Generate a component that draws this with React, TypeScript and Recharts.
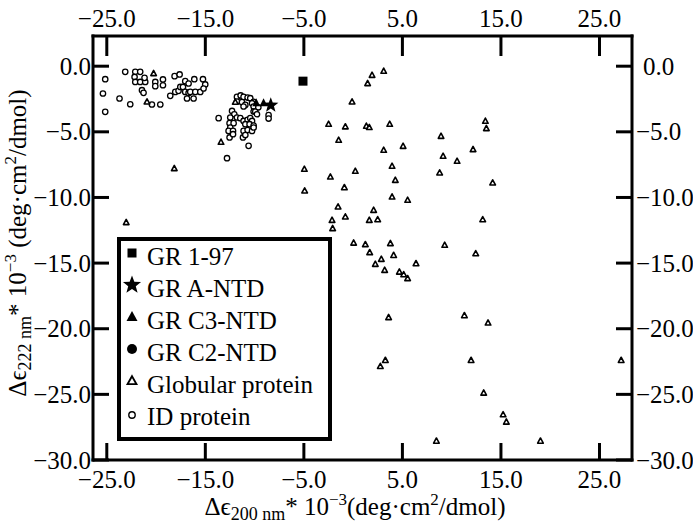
import React from 'react';
import { ScatterChart, Scatter, XAxis, YAxis, Legend } from 'recharts';

// ---------- data ----------
const xTicks = [-25, -15, -5, 5, 15, 25];
const yTicks = [0, -5, -10, -15, -20, -25, -30];

const idProteinX = [
  -25.16, -25.39, -25.16, -23.71, -23.13, -22.62, -22.11, -21.61, -22.18, -22.11, -21.61, -21.1, -21.17, -21.43,
  -21.27, -20.08, -20.08, -19.3, -19.3, -20.42, -19.57, -18.56, -18.12, -17.61, -18.05, -17.72, -17.54, -17.04,
  -16.7, -17.27, -17.04, -16.7, -16.86, -16.19, -16.53, -16.02, -15.51, -16.12, -15.24, -15.01, -15.18,
  -13.65, -12.8, -11.79, -11.42, -11.12, -10.71, -10.44, -10.1, -11.79, -11.28, -10.94, -11.12, -10.26, -10.1,
  -10.1, -12.29, -12.06, -11.79, -12.47, -12.54, -12.13, -12.47, -12.64, -12.19, -12.54, -12.19, -11.45, -11.12,
  -10.71, -10.44, -10.26, -10.94, -10.51, -10.1, -11.12, -10.71, -10.26, -10.1, -11.18, -10.94, -10.61, -9.93,
  -9.76, -8.58, -8.58, -9.62,
];
const idProteinY = [
  -0.99, -2.08, -3.48, -2.46, -0.43, -2.9, -0.43, -0.43, -0.82, -1.2, -1.2, -1.2, -0.89, -1.83,
  -2.03, -1.2, -1.52, -1.01, -1.45, -2.92, -2.92, -2.26, -0.76, -0.63, -1.96, -1.88, -1.58, -1.14,
  -1.32, -1.58, -1.96, -2.04, -2.46, -2.46, -1.96, -1.96, -1.96, -0.99, -0.99, -1.39, -1.7,
  -3.96, -7.01, -2.34, -2.23, -2.34, -2.39, -2.44, -2.72, -2.69, -2.74, -2.95, -3.07, -2.82, -3.07,
  -3.45, -3.41, -3.66, -3.91, -3.91, -4.34, -4.34, -4.67, -4.93, -4.93, -5.43, -5.18, -3.96, -4.17,
  -4.09, -3.96, -4.17, -4.42, -4.42, -4.52, -4.93, -4.86, -4.93, -4.67, -5.43, -5.24, -6.07, -3.45,
  -3.66, -3.73, -3.99, -3.13,
];

const globularX = [
  -20.25, -20.92, -18.15, -23.03, -11.96, -13.41,
  3.1, 1.92, 1.47, -0.11, -2.49, -0.79, 1.34, 1.64, 3.71, -1.47, 3.1, 5.07, 8.92, 9.13, 8.78, 3.95, 0.22,
  -4.95, -2.31, -4.92, -0.89, 4.28, 3.95, 5.53, -1.53, -0.79, 2.08, -2.14, -2.08, 1.64, 2.49, 0.05, 1.24,
  3.78, 9.29, 13.42, 13.52, 12.17, 10.55, 14.16, 13.15, 1.68, 2.86, 4.11, 2.25, 3.2, 6.38, 4.69, 5.13,
  5.53, 12.44, 3.6, 11.29, 13.69, 2.76, 3.27, 11.97, 13.25, 8.45, 15.22, 15.55, 19.01, 27.2,
];
const globularY = [
  -0.56, -2.72, -7.8, -11.91, -2.74, -5.79,
  -0.38, -0.69, -1.32, -2.72, -4.42, -4.62, -4.57, -4.67, -4.42, -5.64, -6.4, -6.1, -5.34, -6.86, -8.13, -7.62, -8.0,
  -7.85, -8.44, -9.5, -9.25, -8.69, -9.96, -10.21, -10.72, -11.48, -10.98, -11.74, -12.37, -11.74, -11.69, -13.47, -13.59,
  -13.51, -13.64, -4.19, -4.75, -6.35, -7.24, -8.89, -11.69, -14.2, -14.71, -14.41, -15.09, -15.55, -15.04, -15.68, -15.88,
  -16.18, -14.28, -19.15, -19.0, -19.56, -22.87, -22.41, -22.41, -24.9, -28.56, -26.55, -27.11, -28.56, -22.41,
];

const gr197X = [-5.09];
const gr197Y = [-1.14];
const grANtdX = [-8.36];
const grANtdY = [-2.97];
const grC3NtdX = [-9.83, -9.09];
const grC3NtdY = [-2.8, -2.8];
const grC2NtdX: number[] = [];
const grC2NtdY: number[] = [];

const legendLabels = ['GR 1-97', 'GR A-NTD', 'GR C3-NTD', 'GR C2-NTD', 'Globular protein', 'ID protein'];

const zip = (xs: number[], ys: number[]) => xs.map((x, i) => ({ x, y: ys[i] }));
const idData = zip(idProteinX, idProteinY);
const globData = zip(globularX, globularY);
const gr197Data = zip(gr197X, gr197Y);
const grAData = zip(grANtdX, grANtdY);
const grC3Data = zip(grC3NtdX, grC3NtdY);
const grC2Data = zip(grC2NtdX, grC2NtdY);

// ---------- styling ----------
const FONT = '"Liberation Serif", "Times New Roman", Times, serif';
const FS = 25;
const fmt = (v: number) => (v < 0 ? '\u2212' : '') + Math.abs(v).toFixed(1);

const starPath = (cx: number, cy: number, R: number) => {
  const r = R * 0.42;
  let d = '';
  for (let i = 0; i < 10; i++) {
    const rad = i % 2 === 0 ? R : r;
    const a = -Math.PI / 2 + (i * Math.PI) / 5;
    d += (i === 0 ? 'M' : 'L') + (cx + rad * Math.cos(a)).toFixed(2) + ',' + (cy + rad * Math.sin(a)).toFixed(2);
  }
  return d + 'Z';
};
const triPath = (cx: number, cy: number, w: number, h: number) =>
  `M${cx},${cy - h * 0.6}L${cx + w / 2},${cy + h * 0.4}L${cx - w / 2},${cy + h * 0.4}Z`;

const IdShape = (p: any) => <circle cx={p.cx} cy={p.cy} r={2.7} fill="#fff" stroke="#000" strokeWidth={1.3} />;
const GlobShape = (p: any) => <path d={triPath(p.cx, p.cy, 5.6, 5.2)} fill="#fff" stroke="#000" strokeWidth={1.6} strokeLinejoin="round" />;
const SquareShape = (p: any) => <rect x={p.cx - 4.5} y={p.cy - 4.5} width={9} height={9} fill="#000" />;
const StarShape = (p: any) => <path d={starPath(p.cx, p.cy, 8)} fill="#000" />;
const FTriShape = (p: any) => <path d={triPath(p.cx, p.cy, 8, 8)} fill="#000" />;
const FCircShape = (p: any) => <circle cx={p.cx} cy={p.cy} r={4.5} fill="#000" />;

// ticks (inward tick line + outward label)
const BottomTick = (p: any) => (
  <g>
    <line x1={p.x} y1={p.y} x2={p.x} y2={p.y - 17} stroke="#000" strokeWidth={3} />
    <text x={p.x} y={p.y + 28} textAnchor="middle" fontFamily={FONT} fontSize={FS} fill="#000">
      {fmt(p.payload.value)}
    </text>
  </g>
);
const TopTick = (p: any) => (
  <g>
    <line x1={p.x} y1={p.y} x2={p.x} y2={p.y + 20} stroke="#000" strokeWidth={3} />
    <text x={p.x} y={p.y - 9} textAnchor="middle" fontFamily={FONT} fontSize={FS} fill="#000">
      {fmt(p.payload.value)}
    </text>
  </g>
);
const LeftTick = (p: any) => (
  <g>
    <line x1={p.x} y1={p.y} x2={p.x + 16} y2={p.y} stroke="#000" strokeWidth={3} />
    <text x={p.x - 2} y={p.y + 8.5} textAnchor="end" fontFamily={FONT} fontSize={FS} fill="#000">
      {fmt(p.payload.value)}
    </text>
  </g>
);
const RightTick = (p: any) => (
  <g>
    <line x1={p.x} y1={p.y} x2={p.x - 16} y2={p.y} stroke="#000" strokeWidth={3} />
    <text x={p.x + 4 + (p.payload.value >= 0 ? 7 : 0)} y={p.y + 8.5} textAnchor="start" fontFamily={FONT} fontSize={FS} fill="#000">
      {fmt(p.payload.value)}
    </text>
  </g>
);

const XTitle = () => (
  <text x={355} y={515} textAnchor="middle" fontFamily={FONT} fontSize={FS} fill="#000">
    {'\u0394\u03f5'}
    <tspan fontSize={18} dy={5}>{'200 nm'}</tspan>
    <tspan dy={-5}>{'* 10'}</tspan>
    <tspan fontSize={17} dy={-10}>{'\u22123'}</tspan>
    <tspan dy={10}>{'(deg\u00b7cm'}</tspan>
    <tspan fontSize={17} dy={-10}>{'2'}</tspan>
    <tspan dy={10}>{'/dmol)'}</tspan>
  </text>
);
const YTitle = () => (
  <text transform="translate(26,243) rotate(-90)" textAnchor="middle" fontFamily={FONT} fontSize={FS} fill="#000">
    {'\u0394\u03f5'}
    <tspan fontSize={18} dy={5}>{'222 nm'}</tspan>
    <tspan dy={-5}>{'* 10'}</tspan>
    <tspan fontSize={17} dy={-10}>{'\u22123'}</tspan>
    <tspan dy={10}>{' (deg\u00b7cm'}</tspan>
    <tspan fontSize={17} dy={-10}>{'2'}</tspan>
    <tspan dy={10}>{'/dmol)'}</tspan>
  </text>
);

const legendMarkers = [
  (cx: number, cy: number) => <rect x={cx - 4.5} y={cy - 4.5} width={9} height={9} fill="#000" />,
  (cx: number, cy: number) => <path d={starPath(cx, cy, 9.5)} fill="#000" />,
  (cx: number, cy: number) => <path d={triPath(cx, cy, 11, 10)} fill="#000" />,
  (cx: number, cy: number) => <circle cx={cx} cy={cy} r={5} fill="#000" />,
  (cx: number, cy: number) => <path d={triPath(cx, cy, 9, 8)} fill="#fff" stroke="#000" strokeWidth={1.8} />,
  (cx: number, cy: number) => <circle cx={cx} cy={cy} r={3.2} fill="#fff" stroke="#000" strokeWidth={1.4} />,
];

const LegendBox = () => (
  <svg width={215} height={204} style={{ display: 'block' }}>
    <rect x={2} y={2} width={211} height={200} fill="#fff" stroke="#000" strokeWidth={4} />
    {legendLabels.map((lab, i) => {
      const base = 28 + i * 32;
      return (
        <g key={lab}>
          {legendMarkers[i](15, base - 12 + (i === 5 ? 2 : 0))}
          <text x={30} y={base} fontFamily={FONT} fontSize={FS} fill="#000">
            {lab}
          </text>
        </g>
      );
    })}
  </svg>
);

export default function App() {
  const axisLine = { stroke: '#000', strokeWidth: 3, strokeLinecap: 'square' as const };
  return (
    <div style={{ position: 'absolute', left: 0, top: 0, width: 693, height: 525, background: '#fff' }}>
      <ScatterChart width={693} height={525} margin={{ top: 0, right: 0, bottom: 0, left: 0 }}>
        <XAxis
          xAxisId="bottom"
          type="number"
          dataKey="x"
          domain={[-26.4, 28.3]}
          allowDataOverflow
          ticks={xTicks}
          height={65}
          tickSize={0}
          tickMargin={0}
          tickLine={false}
          axisLine={axisLine}
          tick={BottomTick}
          interval={0}
          label={() => <XTitle />}
        />
        <XAxis
          xAxisId="top"
          orientation="top"
          type="number"
          dataKey="x"
          domain={[-26.4, 28.3]}
          allowDataOverflow
          ticks={xTicks}
          height={36}
          tickSize={0}
          tickMargin={0}
          tickLine={false}
          axisLine={axisLine}
          tick={TopTick}
          interval={0}
        />
        <YAxis
          yAxisId="left"
          type="number"
          dataKey="y"
          domain={[-30, 2.3]}
          allowDataOverflow
          ticks={yTicks}
          width={93}
          tickSize={0}
          tickMargin={0}
          tickLine={false}
          axisLine={axisLine}
          tick={LeftTick}
          interval={0}
          label={() => <YTitle />}
        />
        <YAxis
          yAxisId="right"
          orientation="right"
          type="number"
          dataKey="y"
          domain={[-30, 2.3]}
          allowDataOverflow
          ticks={yTicks}
          width={61}
          tickSize={0}
          tickMargin={0}
          tickLine={false}
          axisLine={axisLine}
          tick={RightTick}
          interval={0}
        />
        <Legend
          layout="vertical"
          align="center"
          verticalAlign="middle"
          wrapperStyle={{ left: 117, top: 237, width: 215, height: 204 }}
          content={() => <LegendBox />}
        />
        <Scatter name="ID protein" data={idData} xAxisId="bottom" yAxisId="left" shape={IdShape} isAnimationActive={false} />
        <Scatter name="Globular protein" data={globData} xAxisId="bottom" yAxisId="left" shape={GlobShape} isAnimationActive={false} />
        <Scatter name="GR 1-97" data={gr197Data} xAxisId="bottom" yAxisId="left" shape={SquareShape} isAnimationActive={false} />
        <Scatter name="GR C2-NTD" data={grC2Data} xAxisId="bottom" yAxisId="left" shape={FCircShape} isAnimationActive={false} />
        <Scatter name="GR C3-NTD" data={grC3Data} xAxisId="bottom" yAxisId="left" shape={FTriShape} isAnimationActive={false} />
        <Scatter name="GR A-NTD" data={grAData} xAxisId="bottom" yAxisId="left" shape={StarShape} isAnimationActive={false} />
      </ScatterChart>
    </div>
  );
}
